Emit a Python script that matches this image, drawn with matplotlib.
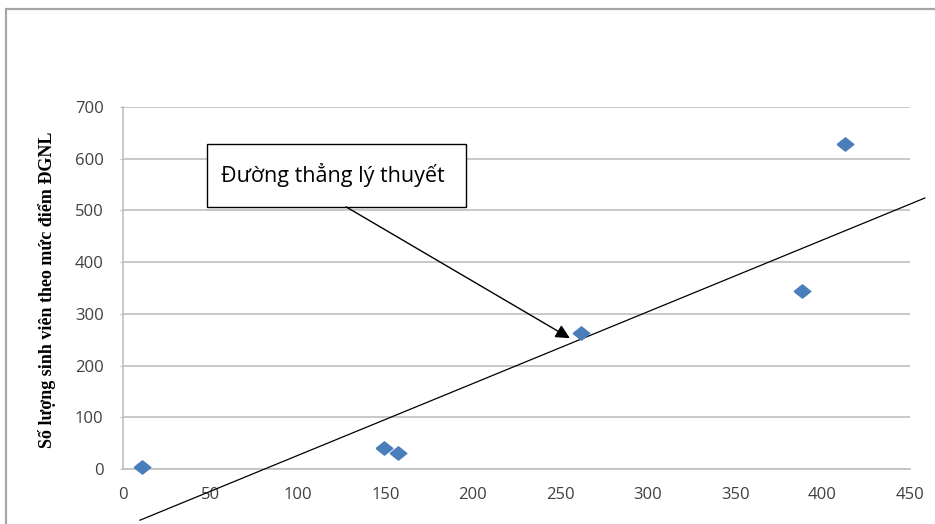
import matplotlib
matplotlib.use("Agg")
import matplotlib.pyplot as plt
from matplotlib.patches import Rectangle

# Data
x_vals = [11, 149, 157, 262, 388, 413]
y_vals = [3, 40, 31, 263, 344, 629]
line_x = [9.7, 458.5]
line_y = [-99, 524]
x_ticks = [0, 50, 100, 150, 200, 250, 300, 350, 400, 450]
y_ticks = [0, 100, 200, 300, 400, 500, 600, 700]
ylabel = "Số lượng sinh viên theo mức điểm ĐGNL"
note = "Đường thẳng lý thuyết"

W, H = 935, 524
fig = plt.figure(figsize=(W / 100, H / 100), dpi=100)
ax = fig.add_axes([123 / W, 55 / H, 787 / W, 362 / H])

ax.set_xlim(0, 450)
ax.set_ylim(0, 700)
ax.set_xticks(x_ticks)
ax.set_yticks(y_ticks)
ax.yaxis.grid(True, color="#bfbfbf", lw=1.2)
ax.set_axisbelow(True)
for s in ["top", "right"]:
    ax.spines[s].set_visible(False)
ax.spines["left"].set_color("#bfbfbf")
ax.spines["bottom"].set_color("#bfbfbf")
ax.spines["left"].set_linewidth(1.2)
ax.spines["bottom"].set_linewidth(1.2)
ax.tick_params(axis="x", length=0, pad=13, labelsize=12, labelcolor="#404040")
ax.tick_params(axis="y", length=2, pad=12, labelsize=12, labelcolor="#404040",
               color="#bfbfbf")
for lab in ax.get_xticklabels() + ax.get_yticklabels():
    lab.set_fontfamily("Open Sans")

ax.plot(line_x, line_y, color="black", lw=0.9, clip_on=False, zorder=3)
diamond = [(-1, 0), (0, 0.8), (1, 0), (0, -0.8), (-1, 0)]
ax.plot(x_vals, y_vals, linestyle="none", marker=diamond, ms=12,
        color="#4a7ebb", mec="#4a7ebb", zorder=4, clip_on=False)

# Annotation box
box_x0, box_y0, box_w, box_h = 48, 507, 148, 122
ax.add_patch(Rectangle((box_x0, box_y0), box_w, box_h, facecolor="white",
                       edgecolor="black", lw=1.0, zorder=5, clip_on=False))
ax.text(box_x0 + box_w / 2 - 2, box_y0 + box_h / 2 + 1, note, ha="center",
        va="center", fontsize=15.5, family="Open Sans", zorder=6)
ax.annotate("", xy=(255.5, 253), xytext=(127.5, box_y0),
            arrowprops=dict(arrowstyle="-|>", color="black", lw=1.0,
                            mutation_scale=21, shrinkA=0, shrinkB=0), zorder=6)

fig.text(47 / W, 1 - 290 / H, ylabel, rotation=90, ha="center", va="center",
         fontsize=13, fontweight="bold", family="Liberation Serif")

# Outer frame
fig.patches.append(Rectangle((5.5 / W, -0.1), 1.2, (H - 9) / H + 0.1,
                             transform=fig.transFigure, fill=False,
                             edgecolor="#a6a6a6", lw=1.6))

fig.savefig("out.png", dpi=100)
